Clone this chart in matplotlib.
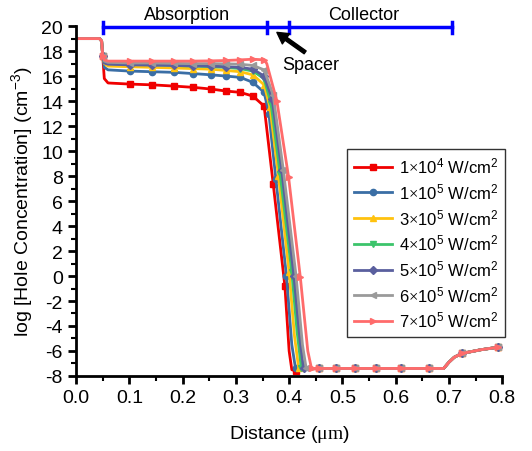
import numpy as np
import matplotlib
matplotlib.use('Agg')
import matplotlib.pyplot as plt

plt.rcParams['font.family'] = ['Liberation Sans', 'DejaVu Sans']
plt.rcParams['mathtext.fontset'] = 'custom'
plt.rcParams['mathtext.rm'] = 'Liberation Serif'
plt.rcParams['mathtext.sf'] = 'Liberation Sans'
plt.rcParams['mathtext.it'] = 'Liberation Sans:italic'
plt.rcParams['axes.unicode_minus'] = False

# --- data ---
labels = [r'1$\times$10$^{\mathsf{4}}$ W/cm$^{\mathsf{2}}$',
          r'1$\times$10$^{\mathsf{5}}$ W/cm$^{\mathsf{2}}$',
          r'3$\times$10$^{\mathsf{5}}$ W/cm$^{\mathsf{2}}$',
          r'4$\times$10$^{\mathsf{5}}$ W/cm$^{\mathsf{2}}$',
          r'5$\times$10$^{\mathsf{5}}$ W/cm$^{\mathsf{2}}$',
          r'6$\times$10$^{\mathsf{5}}$ W/cm$^{\mathsf{2}}$',
          r'7$\times$10$^{\mathsf{5}}$ W/cm$^{\mathsf{2}}$']
colors = ['#F00000', '#3A6EA5', '#FFC20E', '#3CC46B', '#5A5F9E', '#9A9A9A', '#FF6B6B']
markers = ['s', 'o', '^', 'v', 'D', '<', '>']

# shared substrate region and drop into absorber
x_head = [0.0, 0.044, 0.048, 0.05, 0.053, 0.06]
# absorber mesh points (markers)
x_abs = [0.101, 0.143, 0.184, 0.220, 0.254, 0.282, 0.308, 0.332, 0.353]

head_y = {
    0: [19.0, 19.0, 18.8, 17.6, 15.8, 15.45],
    1: [19.0, 19.0, 18.8, 17.6, 16.7, 16.5],
    2: [19.0, 19.0, 18.8, 17.6, 17.0, 16.8],
    3: [19.0, 19.0, 18.8, 17.6, 17.1, 17.0],
    4: [19.0, 19.0, 18.8, 17.6, 17.05, 16.95],
    5: [19.0, 19.0, 18.8, 17.6, 17.2, 17.1],
    6: [19.0, 19.0, 18.8, 17.6, 17.3, 17.2],
}
abs_y = {
    0: [15.36, 15.3, 15.2, 15.1, 14.96, 14.8, 14.7, 14.4, 13.6],
    1: [16.4, 16.35, 16.3, 16.2, 16.1, 16.0, 15.9, 15.5, 14.7],
    2: [16.75, 16.7, 16.65, 16.6, 16.55, 16.45, 16.35, 16.1, 15.3],
    3: [16.95, 16.9, 16.85, 16.8, 16.75, 16.7, 16.6, 16.4, 15.8],
    4: [16.9, 16.88, 16.85, 16.82, 16.8, 16.75, 16.7, 16.55, 16.0],
    5: [17.05, 17.05, 17.02, 17.0, 17.0, 16.98, 16.95, 16.85, 16.5],
    6: [17.2, 17.2, 17.2, 17.2, 17.22, 17.25, 17.3, 17.35, 17.3],
}
# drop through spacer/collector edge: (x, y)
drop_x = {
    0: [0.37, 0.392, 0.400, 0.405, 0.412, 0.425],
    1: [0.362, 0.375, 0.395, 0.405, 0.412, 0.425],
    2: [0.364, 0.38, 0.40, 0.41, 0.418, 0.43],
    3: [0.366, 0.383, 0.405, 0.415, 0.423, 0.432],
    4: [0.368, 0.386, 0.409, 0.42, 0.427, 0.435],
    5: [0.37, 0.389, 0.413, 0.425, 0.432, 0.438],
    6: [0.358, 0.377, 0.399, 0.421, 0.435, 0.442],
}
drop_y = {
    0: [7.4, -0.8, -6.0, -7.5, -7.6, -7.5],
    1: [13.0, 7.8, 0.0, -5.5, -7.4, -7.45],
    2: [13.5, 8.0, 0.3, -4.8, -7.4, -7.45],
    3: [13.8, 8.2, 0.3, -4.5, -7.4, -7.42],
    4: [14.2, 8.5, 0.0, -5.0, -7.4, -7.42],
    5: [14.5, 8.5, 0.0, -5.5, -7.4, -7.4],
    6: [17.0, 14.0, 7.9, -0.1, -6.0, -7.4],
}
drop_mark = {
    0: [1, 1, 0, 0, 1, 0],
    1: [1, 1, 1, 0, 1, 0],
    2: [1, 1, 1, 0, 1, 0],
    3: [1, 1, 1, 0, 1, 0],
    4: [1, 1, 1, 0, 1, 0],
    5: [1, 1, 1, 0, 1, 0],
    6: [0, 1, 1, 1, 0, 1],
}
# shared collector / substrate tail
x_tail = [0.456, 0.488, 0.523, 0.563, 0.610, 0.663, 0.690, 0.700, 0.710, 0.724, 0.760, 0.792]
y_tail = [-7.4, -7.4, -7.4, -7.4, -7.4, -7.4, -7.4, -6.9, -6.5, -6.2, -5.9, -5.7]
tail_mark = [1, 1, 1, 1, 1, 1, 0, 0, 0, 1, 0, 1]
head_mark = [0, 0, 0, 1, 0, 0]

region_edges = [0.05, 0.358, 0.40, 0.705]
region_names = ['Absorption', 'Collector']
region_label_x = [0.208, 0.54]

# --- figure ---
fig = plt.figure(figsize=(5.32, 4.52), dpi=100)
ax = fig.add_axes([0.143, 0.166, 0.801, 0.774])

for i in range(len(labels)):
    x = x_head + x_abs + drop_x[i] + x_tail
    y = head_y[i] + abs_y[i] + drop_y[i] + y_tail
    mk = head_mark + [1] * len(x_abs) + drop_mark[i] + tail_mark
    ax.plot(x, y, color=colors[i], lw=2, marker=markers[i], ms=4.5,
            markevery=[bool(m) for m in mk], label=labels[i])

ax.set_xlim(0, 0.8)
ax.set_ylim(-8, 20)
ax.set_xticks(np.arange(0, 0.81, 0.1))
ax.set_xticks(np.arange(0.05, 0.8, 0.1), minor=True)
ax.set_yticks(np.arange(-8, 21, 2))
ax.set_yticks(np.arange(-7, 20, 2), minor=True)
ax.xaxis.set_major_formatter(plt.FormatStrFormatter('%.1f'))
for s in ['top', 'right']:
    ax.spines[s].set_visible(False)
for s in ['left', 'bottom']:
    ax.spines[s].set_linewidth(2)
ax.tick_params(which='major', direction='out', length=6, width=2, labelsize=14)
ax.tick_params(which='minor', direction='out', length=3.5, width=1.5)

ax.set_xlabel(r'Distance ($\mathrm{\mu m}$)', fontsize=14, labelpad=12)
ax.set_ylabel(r'log [Hole Concentration] (cm$^{\mathsf{-3}}$)', fontsize=14)

# region bars at the top
ax.plot([region_edges[0], region_edges[-1]], [19.9, 19.9], color='#0000FF', lw=2.5, clip_on=False)
for e in region_edges:
    ax.plot([e, e], [19.45, 20.35], color='#0000FF', lw=2.5, clip_on=False)
for name, xc in zip(region_names, region_label_x):
    ax.text(xc, 20.95, name, ha='center', va='center', fontsize=13, clip_on=False)
ax.annotate('', xy=(0.377, 19.5), xytext=(0.43, 17.9),
            arrowprops=dict(facecolor='black', edgecolor='black', width=2.5,
                            headwidth=9, headlength=8, shrink=0))
ax.text(0.44, 16.96, 'Spacer', ha='center', va='center', fontsize=13)

leg = ax.legend(loc='upper left', bbox_to_anchor=(0.636, 0.649), fontsize=12,
                frameon=True, fancybox=False, edgecolor='#333333', framealpha=1,
                handlelength=2.3, borderaxespad=0, borderpad=0.4,
                labelspacing=0.35, handletextpad=0.4)
leg.get_frame().set_linewidth(1)

fig.savefig('out.png', dpi=100)
